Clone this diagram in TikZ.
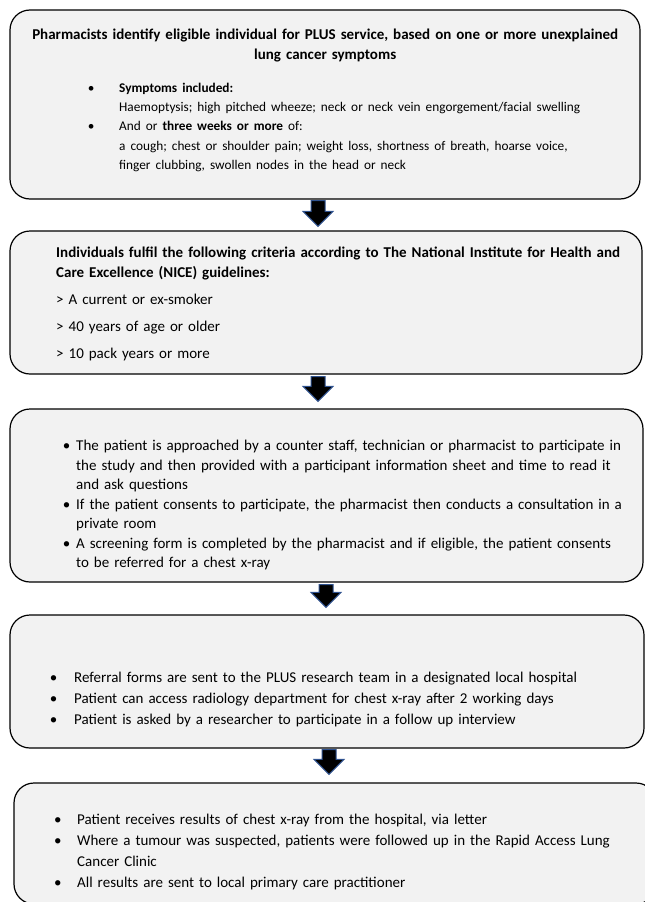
\documentclass[tikz,border=0pt]{standalone}
\usepackage{fontspec}
\setmainfont{Carlito}
\usetikzlibrary{calc}
\definecolor{boxfill}{HTML}{F2F2F2}
\definecolor{arrowline}{HTML}{2F528F}
\newcommand{\bodyfont}{\fontsize{15}{19.5}\selectfont}
% bullet line: #1 = gap from bullet centre to text
\newcommand{\bitem}[1]{\par\noindent\hangindent=#1\hangafter=0\llap{\makebox[0pt][c]{\textbullet}\hspace{#1}}\ignorespaces}
\tikzstyle{stage}=[draw=black, line width=1.2pt, fill=boxfill, rounded corners=20pt, inner sep=0pt]
\tikzstyle{stagetext}=[anchor=north west, inner sep=0pt, text width=580pt, font=\bodyfont,
  execute at begin node={\raggedright\parindent=0pt}]
\tikzstyle{downarrow}=[draw=arrowline, line width=1pt, fill=black,
  to path={let \p1=(\tikztostart), \p2=(\tikztotarget) in
    (\x1-7,\y1) -- (\x1+7,\y1) -- (\x1+7,\y2+15) -- (\x1+15,\y2+15) -- (\x1,\y2)
    -- (\x1-15,\y2+15) -- (\x1-7,\y2+15) -- cycle}]

\begin{document}
\begin{tikzpicture}[x=1pt, y=-1pt]
  \useasboundingbox (0,0) rectangle (645,902);
  \clip (0,0) rectangle (645,902);

  % stages
  \node[stage, minimum width=630pt, minimum height=189pt] (b1) at (325,104.5) {};
  \node[stage, minimum width=632pt, minimum height=143pt] (b2) at (326,302.5) {};
  \node[stage, minimum width=633pt, minimum height=173pt] (b3) at (326.5,495.5) {};
  \node[stage, minimum width=634pt, minimum height=133pt] (b4) at (327,681.5) {};
  \node[stage, minimum width=642pt, minimum height=121pt] (b5) at (335,843.5) {};

  % texts
  \node[stagetext, text width=610pt] (t1) at (20,29) {%
    {\centering\bfseries Pharmacists identify eligible individual for PLUS service, based on one or more unexplained\\
    lung cancer symptoms\par}
    \vspace{14pt}
    \fontsize{13.3}{19.2}\selectfont
    \leftskip=71pt
    \bitem{28pt}\textbf{Symptoms included:}\newline
      Haemoptysis; high pitched wheeze; neck or neck vein engorgement/facial swelling
    \bitem{28pt}And or \textbf{three weeks or more} of:\newline
      a cough; chest or shoulder pain; weight loss, shortness of breath, hoarse voice,\newline
      finger clubbing, swollen nodes in the head or neck\par};
  \node[stagetext] (t2) at (56,247) {%
    \setlength{\parskip}{7.5pt}%
    \textbf{Individuals fulfil the following criteria according to The National Institute for Health and\newline
    Care Excellence (NICE) guidelines:}\par
    > A current or ex-smoker\par
    > 40 years of age or older\par
    > 10 pack years or more\par};
  \node[stagetext] (t3) at (66.5,431) {%
    \bitem{9.5pt}The patient is approached by a counter staff, technician or pharmacist to participate in\newline
      the study and then provided with a participant information sheet and time to read it\newline
      and ask questions
    \bitem{9.5pt}If the patient consents to participate, the pharmacist then conducts a consultation in a\newline
      private room
    \bitem{9.5pt}A screening form is completed by the pharmacist and if eligible, the patient consents\newline
      to be referred for a chest x-ray\par};
  \node[stagetext, font=\fontsize{15}{21}\selectfont] (t4) at (53.5,661) {%
    \bitem{20.5pt}Referral forms are sent to the PLUS research team in a designated local hospital
    \bitem{20.5pt}Patient can access radiology department for chest x-ray after 2 working days
    \bitem{20.5pt}Patient is asked by a researcher to participate in a follow up interview\par};
  \node[stagetext, font=\fontsize{15}{21}\selectfont] (t5) at (57.6,803) {%
    \bitem{19.4pt}Patient receives results of chest x-ray from the hospital, via letter
    \bitem{19.4pt}Where a tumour was suspected, patients were followed up in the Rapid Access Lung\newline
      Cancer Clinic
    \bitem{19.4pt}All results are sent to local primary care practitioner\par};

  % arrows between stages
  \draw[downarrow] ([xshift=-7pt,yshift=-1pt]b1.south) to ([xshift=-8pt,yshift=4pt]b2.north);
  \draw[downarrow] ([xshift=-8pt,yshift=-2pt]b2.south) to ([xshift=-8.5pt,yshift=7pt]b3.north);
  \draw[downarrow] ([xshift=-0.5pt,yshift=-2pt]b3.south) to ([xshift=-1pt,yshift=7pt]b4.north);
  \draw[downarrow] ([xshift=2pt,yshift=-1pt]b4.south) to ([xshift=-6pt,yshift=8pt]b5.north);
\end{tikzpicture}
\end{document}
